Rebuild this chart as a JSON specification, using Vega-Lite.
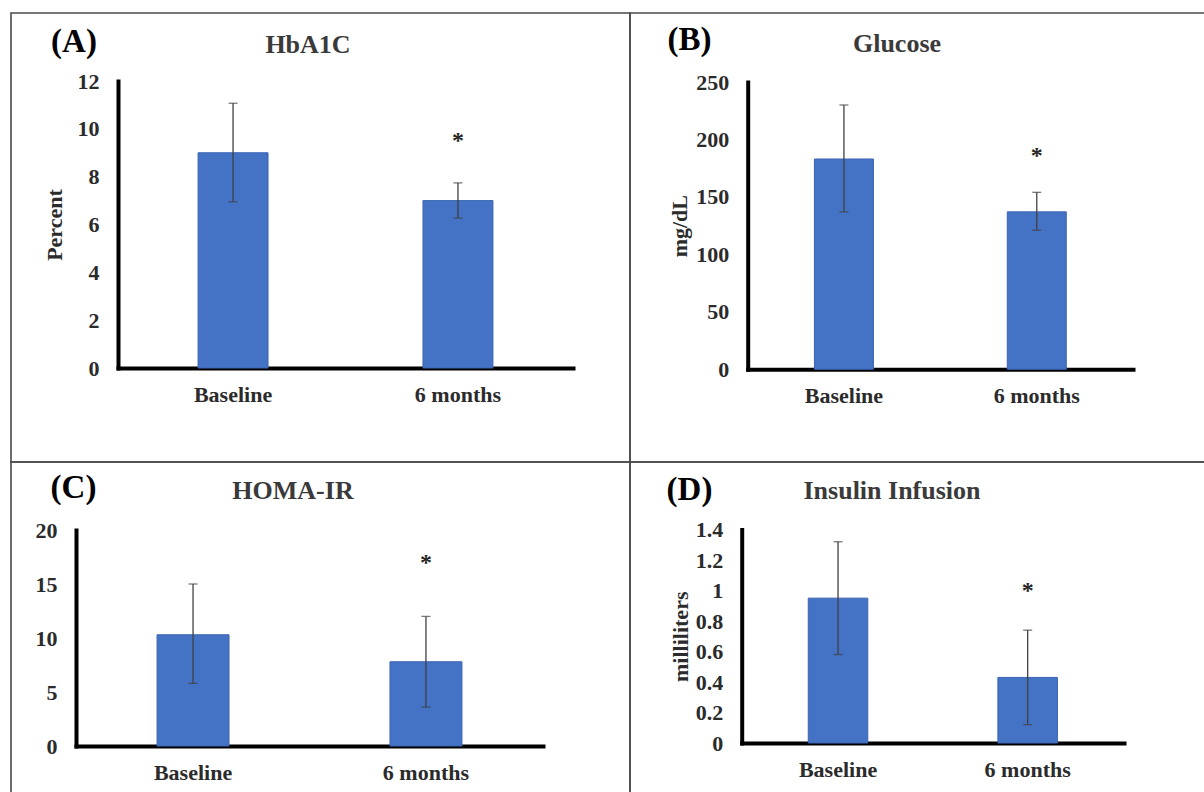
{
  "$schema": "https://vega.github.io/schema/vega-lite/v6.json",
  "background": "white",
  "padding": {"left": 10, "top": 12, "right": 0, "bottom": 0},
  "spacing": 0,
  "bounds": "flush",
  "columns": 2,
  "concat": [
    {
      "width": 619, "height": 449,
      "title": {"text": "HbA1C", "offset": -45, "dx": -12.5},
      "data": {"values": [
        {"period": "Baseline", "mean": 9.0, "low": 6.95, "high": 11.07, "sig": "", "star": null},
        {"period": "6 months", "mean": 7.0, "low": 6.27, "high": 7.74, "sig": "*", "star": 9.5}
      ]},
      "encoding": {
        "x": {"field": "period", "type": "nominal", "sort": ["Baseline", "6 months"],
          "scale": {"range": [107, 562], "paddingInner": 0.689, "paddingOuter": 0.356, "align": 0.5, "round": false},
          "axis": {"offset": -94, "labelAngle": 0, "labelPadding": 16, "title": "(A)", "titleX": 62.5, "titleY": -317, "titleFontSize": 33, "titleColor": "#000000", "titleBaseline": "alphabetic", "titleAlign": "center"}}
      },
      "layer": [
        {"mark": {"type": "bar", "fill": "#4472c4", "stroke": "#3b65b3", "strokeWidth": 1},
         "encoding": {"y": {"field": "mean", "type": "quantitative", "title": "Percent",
           "scale": {"domain": [0, 12], "range": [355, 68], "nice": false},
           "axis": {"offset": -107, "values": [0, 2, 4, 6, 8, 10, 12], "labelPadding": 19, "title": "Percent", "titlePadding": 11}}}},
        {"mark": {"type": "rule", "color": "#404040", "strokeWidth": 1.3},
         "encoding": {"y": {"field": "low", "type": "quantitative", "title": "Percent"}, "y2": {"field": "high"}}},
        {"mark": {"type": "tick", "color": "#404040", "thickness": 1.3, "size": 9},
         "encoding": {"y": {"field": "low", "type": "quantitative", "title": "Percent"}}},
        {"mark": {"type": "tick", "color": "#404040", "thickness": 1.3, "size": 9},
         "encoding": {"y": {"field": "high", "type": "quantitative", "title": "Percent"}}},
        {"transform": [{"filter": "datum.star != null"}],
         "mark": {"type": "text", "font": "Liberation Serif", "fontSize": 24, "fontWeight": "bold", "color": "#262626", "baseline": "middle"},
         "encoding": {"y": {"field": "star", "type": "quantitative", "title": "Percent"}, "text": {"field": "sig"}}}
      ]
    },
    {
      "width": 578, "height": 449,
      "title": {"text": "Glucose", "offset": -44, "dx": -22},
      "data": {"values": [
        {"period": "Baseline", "mean": 183, "low": 137, "high": 230, "sig": "", "star": null},
        {"period": "6 months", "mean": 137, "low": 121, "high": 154, "sig": "*", "star": 186}
      ]},
      "encoding": {
        "x": {"field": "period", "type": "nominal", "sort": ["Baseline", "6 months"],
          "scale": {"range": [117.7, 503], "paddingInner": 0.694, "paddingOuter": 0.346, "align": 0.5, "round": false},
          "axis": {"offset": -92.7, "labelAngle": 0, "labelPadding": 16, "title": "(B)", "titleX": 59, "titleY": -319.6, "titleFontSize": 33, "titleColor": "#000000", "titleBaseline": "alphabetic", "titleAlign": "center"}}
      },
      "layer": [
        {"mark": {"type": "bar", "fill": "#4472c4", "stroke": "#3b65b3", "strokeWidth": 1},
         "encoding": {"y": {"field": "mean", "type": "quantitative", "title": "mg/dL",
           "scale": {"domain": [0, 250], "range": [356.3, 69], "nice": false},
           "axis": {"offset": -117.7, "values": [0, 50, 100, 150, 200, 250], "labelPadding": 19, "title": "mg/dL", "titlePadding": 4}}}},
        {"mark": {"type": "rule", "color": "#404040", "strokeWidth": 1.3},
         "encoding": {"y": {"field": "low", "type": "quantitative", "title": "mg/dL"}, "y2": {"field": "high"}}},
        {"mark": {"type": "tick", "color": "#404040", "thickness": 1.3, "size": 9},
         "encoding": {"y": {"field": "low", "type": "quantitative", "title": "mg/dL"}}},
        {"mark": {"type": "tick", "color": "#404040", "thickness": 1.3, "size": 9},
         "encoding": {"y": {"field": "high", "type": "quantitative", "title": "mg/dL"}}},
        {"transform": [{"filter": "datum.star != null"}],
         "mark": {"type": "text", "font": "Liberation Serif", "fontSize": 24, "fontWeight": "bold", "color": "#262626", "baseline": "middle"},
         "encoding": {"y": {"field": "star", "type": "quantitative", "title": "mg/dL"}, "text": {"field": "sig"}}}
      ]
    },
    {
      "width": 619, "height": 334,
      "title": {"text": "HOMA-IR", "offset": -42, "dx": -27.5},
      "data": {"values": [
        {"period": "Baseline", "mean": 10.3, "low": 5.8, "high": 15.0, "sig": "", "star": null},
        {"period": "6 months", "mean": 7.8, "low": 3.6, "high": 12.0, "sig": "*", "star": 16.9}
      ]},
      "encoding": {
        "x": {"field": "period", "type": "nominal", "sort": ["Baseline", "6 months"],
          "scale": {"range": [65, 532], "paddingInner": 0.691, "paddingOuter": 0.348, "align": 0.5, "round": false},
          "axis": {"offset": -50, "labelAngle": 0, "labelPadding": 16, "title": "(C)", "titleX": 62, "titleY": -249, "titleFontSize": 33, "titleColor": "#000000", "titleBaseline": "alphabetic", "titleAlign": "center"}}
      },
      "layer": [
        {"mark": {"type": "bar", "fill": "#4472c4", "stroke": "#3b65b3", "strokeWidth": 1},
         "encoding": {"y": {"field": "mean", "type": "quantitative", "title": null,
           "scale": {"domain": [0, 20], "range": [284, 68], "nice": false},
           "axis": {"offset": -65, "values": [0, 5, 10, 15, 20], "labelPadding": 19, "title": null}}}},
        {"mark": {"type": "rule", "color": "#404040", "strokeWidth": 1.3},
         "encoding": {"y": {"field": "low", "type": "quantitative", "title": null}, "y2": {"field": "high"}}},
        {"mark": {"type": "tick", "color": "#404040", "thickness": 1.3, "size": 9},
         "encoding": {"y": {"field": "low", "type": "quantitative", "title": null}}},
        {"mark": {"type": "tick", "color": "#404040", "thickness": 1.3, "size": 9},
         "encoding": {"y": {"field": "high", "type": "quantitative", "title": null}}},
        {"transform": [{"filter": "datum.star != null"}],
         "mark": {"type": "text", "font": "Liberation Serif", "fontSize": 24, "fontWeight": "bold", "color": "#262626", "baseline": "middle"},
         "encoding": {"y": {"field": "star", "type": "quantitative", "title": null}, "text": {"field": "sig"}}}
      ]
    },
    {
      "width": 578, "height": 334,
      "title": {"text": "Insulin Infusion", "offset": -42, "dx": -27},
      "data": {"values": [
        {"period": "Baseline", "mean": 0.95, "low": 0.58, "high": 1.32, "sig": "", "star": null},
        {"period": "6 months", "mean": 0.43, "low": 0.12, "high": 0.74, "sig": "*", "star": 1.0}
      ]},
      "encoding": {
        "x": {"field": "period", "type": "nominal", "sort": ["Baseline", "6 months"],
          "scale": {"range": [111.7, 494], "paddingInner": 0.686, "paddingOuter": 0.351, "align": 0.5, "round": false},
          "axis": {"offset": -53, "labelAngle": 0, "labelPadding": 16, "title": "(D)", "titleX": 59, "titleY": -244, "titleFontSize": 33, "titleColor": "#000000", "titleBaseline": "alphabetic", "titleAlign": "center"}}
      },
      "layer": [
        {"mark": {"type": "bar", "fill": "#4472c4", "stroke": "#3b65b3", "strokeWidth": 1},
         "encoding": {"y": {"field": "mean", "type": "quantitative", "title": "milliliters",
           "scale": {"domain": [0, 1.4], "range": [281, 67.5], "nice": false},
           "axis": {"offset": -111.7, "values": [0, 0.2, 0.4, 0.6, 0.8, 1, 1.2, 1.4], "format": "~g", "labelPadding": 19, "title": "milliliters", "titlePadding": 3}}}},
        {"mark": {"type": "rule", "color": "#404040", "strokeWidth": 1.3},
         "encoding": {"y": {"field": "low", "type": "quantitative", "title": "milliliters"}, "y2": {"field": "high"}}},
        {"mark": {"type": "tick", "color": "#404040", "thickness": 1.3, "size": 9},
         "encoding": {"y": {"field": "low", "type": "quantitative", "title": "milliliters"}}},
        {"mark": {"type": "tick", "color": "#404040", "thickness": 1.3, "size": 9},
         "encoding": {"y": {"field": "high", "type": "quantitative", "title": "milliliters"}}},
        {"transform": [{"filter": "datum.star != null"}],
         "mark": {"type": "text", "font": "Liberation Serif", "fontSize": 24, "fontWeight": "bold", "color": "#262626", "baseline": "middle"},
         "encoding": {"y": {"field": "star", "type": "quantitative", "title": "milliliters"}, "text": {"field": "sig"}}}
      ]
    }
  ],
  "config": {
    "view": {"stroke": "#4a4a4a", "strokeWidth": 1.6},
    "font": "Liberation Serif",
    "axis": {
      "labelFont": "Liberation Serif", "labelFontWeight": "bold", "labelFontSize": 22, "labelColor": "#2b2b2b",
      "titleFont": "Liberation Serif", "titleFontWeight": "bold", "titleFontSize": 22, "titleColor": "#2b2b2b",
      "grid": false, "ticks": false, "tickSize": 0,
      "domainColor": "#000000", "domainWidth": 4, "domainCap": "square"
    },
    "title": {"font": "Liberation Serif", "fontSize": 26, "fontWeight": "bold", "color": "#3a3a3a", "frame": "group", "anchor": "middle"}
  }
}
